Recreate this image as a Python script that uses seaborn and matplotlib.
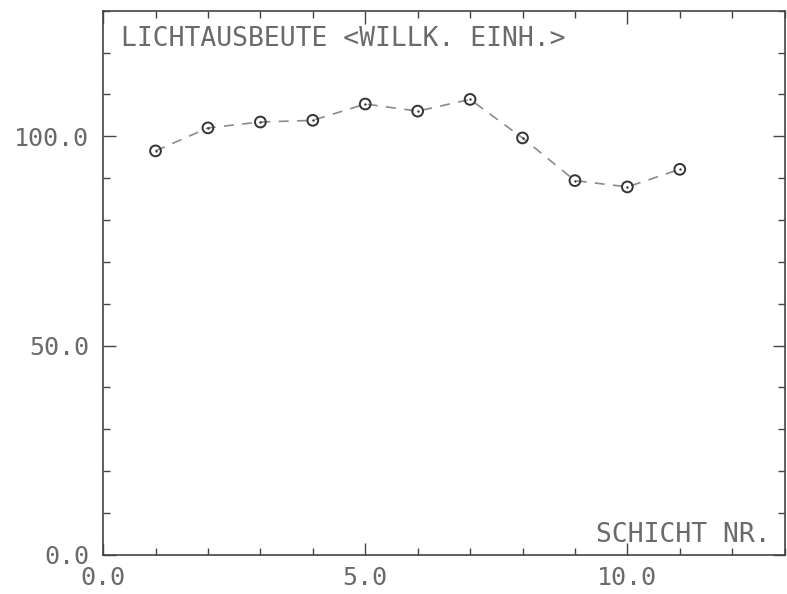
import matplotlib
matplotlib.use("Agg")
import matplotlib.pyplot as plt
import seaborn as sns
import pandas as pd
from matplotlib.ticker import MultipleLocator, FormatStrFormatter

# data
schicht = [1, 2, 3, 4, 5, 6, 7, 8, 9, 10, 11]
lichtausbeute = [96.5, 102.0, 103.4, 103.8, 107.7, 106.0, 108.8, 99.6, 89.4, 87.9, 92.1]
y_label_text = "LICHTAUSBEUTE <WILLK. EINH.>"
x_label_text = "SCHICHT NR."

df = pd.DataFrame({"schicht": schicht, "licht": lichtausbeute})

sns.set_style("ticks")
plt.rcParams["font.family"] = ["DejaVu Sans Mono", "DejaVu Sans"]

fig = plt.figure(figsize=(7.87, 5.94), dpi=100)
ax = fig.add_axes([0.131, 0.066, 0.866, 0.916])

ink = "#6a6a6a"
sns.lineplot(data=df, x="schicht", y="licht", ax=ax, color="#8a8a8a",
             linewidth=1.2, dashes=False, linestyle=(0, (6, 5)))
sns.scatterplot(data=df, x="schicht", y="licht", ax=ax, marker="o", s=60,
                facecolor="none", edgecolor="#333333", linewidth=1.4, zorder=3)
sns.scatterplot(data=df, x="schicht", y="licht", ax=ax, marker="o", s=3,
                color="#333333", linewidth=0, zorder=4)

ax.set_xlim(0, 13)
ax.set_ylim(0, 130)
ax.xaxis.set_major_locator(MultipleLocator(5))
ax.xaxis.set_minor_locator(MultipleLocator(1))
ax.yaxis.set_major_locator(MultipleLocator(50))
ax.yaxis.set_minor_locator(MultipleLocator(10))
ax.xaxis.set_major_formatter(FormatStrFormatter("%.1f"))
ax.yaxis.set_major_formatter(FormatStrFormatter("%.1f"))

ax.tick_params(which="both", direction="in", top=True, right=True,
               color="#444444", width=1.0)
ax.tick_params(which="major", length=9, labelsize=18, labelcolor=ink)
ax.tick_params(axis="x", which="major", pad=8)
ax.tick_params(axis="y", which="major", pad=10)
ax.tick_params(which="minor", length=5)

for sp in ax.spines.values():
    sp.set_visible(True)
    sp.set_color("#444444")
    sp.set_linewidth(1.2)

ax.set_xlabel("")
ax.set_ylabel("")
ax.text(0.027, 0.948, y_label_text, transform=ax.transAxes, fontsize=19,
        color=ink, ha="left", va="center")
ax.text(0.98, 0.036, x_label_text, transform=ax.transAxes, fontsize=19,
        color=ink, ha="right", va="center")

fig.savefig("out.png", dpi=100)
